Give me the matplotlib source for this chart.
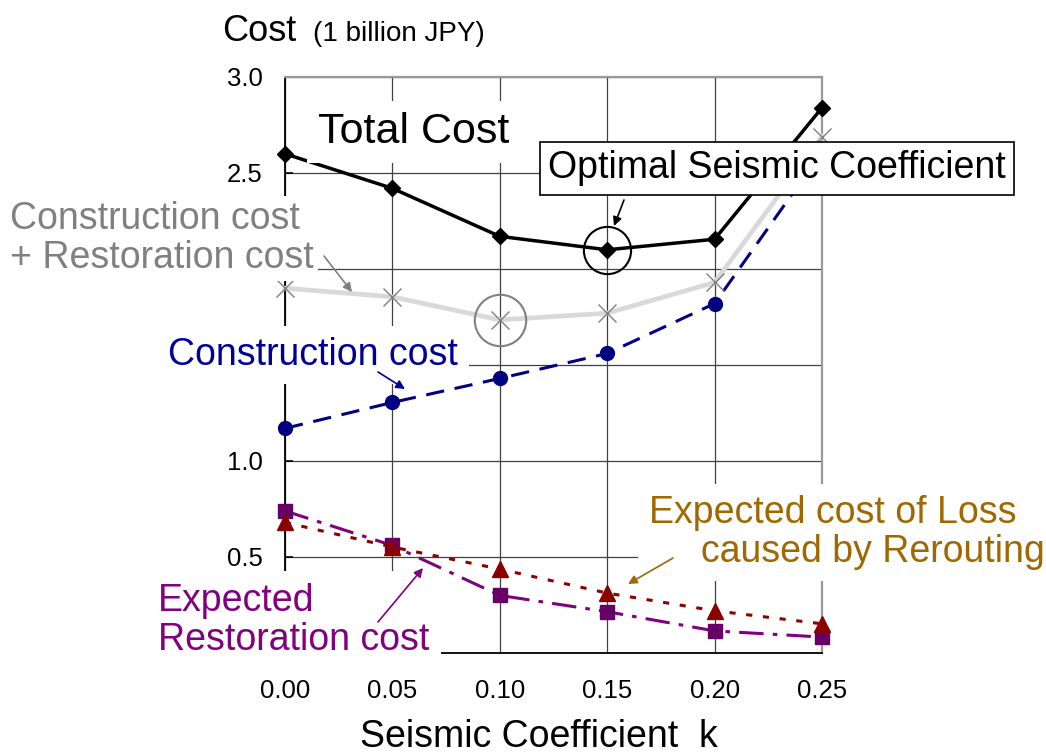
import matplotlib
matplotlib.use("Agg")
import matplotlib.pyplot as plt
from matplotlib.patches import FancyArrowPatch

plt.rcParams['font.family'] = ['Liberation Sans', 'DejaVu Sans']

# seismic coefficient k and costs (1 billion JPY)
k = [0.00, 0.05, 0.10, 0.15, 0.20, 0.25]
x_labels = ["0.00", "0.05", "0.10", "0.15", "0.20", "0.25"]
y_ticks = [0.5, 1.0, 1.5, 2.0, 2.5, 3.0]
y_labels = ["0.5", "1.0", "", "", "2.5", "3.0"]  # 1.5 / 2.0 sit under the text labels
total_cost = [2.60, 2.42, 2.17, 2.10, 2.155, 2.84]
constr_restor = [1.90, 1.855, 1.735, 1.77, 1.93, 2.69]
construction = [1.17, 1.305, 1.43, 1.56, 1.82, 2.61]
restoration = [0.74, 0.56, 0.30, 0.215, 0.115, 0.083]
rerouting = [0.68, 0.552, 0.437, 0.312, 0.22, 0.152]
opt_total = 3   # index of optimum (total cost)
opt_cr = 2      # index of optimum (construction + restoration)

W, H = 1046, 754
fig = plt.figure(figsize=(W / 100, H / 100), dpi=100)
ax = fig.add_axes([285 / W, 1 - 653 / H, (822 - 285) / W, (653 - 77) / H])

ax.set_xlim(0, 0.25)
ax.set_ylim(0, 3.0)
ax.set_xticks(k)
ax.set_xticklabels(x_labels)
ax.set_yticks(y_ticks)
ax.set_yticklabels(y_labels)
ax.tick_params(axis='x', length=0, labelsize=18.5, pad=19)
ax.tick_params(axis='y', direction='in', length=6, width=1.2, labelsize=18.5, pad=16)
ax.grid(True, color='#404040', lw=0.9)
ax.set_axisbelow(True)
for s in ['left', 'bottom']:
    ax.spines[s].set_color('black')
    ax.spines[s].set_linewidth(1.3)
for s in ['top', 'right']:
    ax.spines[s].set_color('#999999')
    ax.spines[s].set_linewidth(1.6)

ax.plot(k, construction, color='#000080', lw=2.2, ls=(0, (6, 3.5)),
        marker='o', ms=10, zorder=3, clip_on=False)
ax.plot(k, constr_restor, color='#D9D9D9', lw=3.4, marker='x', ms=13,
        mec='#808080', mew=1.0, zorder=3, clip_on=False)
ax.plot(k, restoration, color='#800080', lw=2.2, ls=(0, (8, 3, 1.5, 3)),
        marker='s', ms=10, mfc='#660066', mec='#660066', zorder=4, clip_on=False)
ax.plot(k, rerouting, color='#8B0000', lw=2.2, ls=(0, (2, 3.5)),
        marker='^', ms=11, zorder=5, clip_on=False)
ax.plot(k, total_cost, color='black', lw=2.5, marker='D', ms=8.5, zorder=6, clip_on=False)

# circles around the optimum points
ax.plot(k[opt_total], total_cost[opt_total], 'o', ms=34, mfc='none', mec='black', mew=1.5, zorder=7)
ax.plot(k[opt_cr], constr_restor[opt_cr], 'o', ms=37, mfc='none', mec='#808080', mew=1.5, zorder=7)


def ftext(x, y, s, **kw):
    # x, y in pixels from the top-left corner (baseline of the last line)
    return fig.text(x / W, 1 - y / H, s, **kw)


def arrow(x0, y0, x1, y1, c):
    a = FancyArrowPatch((x0 / W, 1 - y0 / H), (x1 / W, 1 - y1 / H), arrowstyle='-|>',
                        mutation_scale=13, lw=1.2, color=c, transform=fig.transFigure,
                        shrinkA=0, shrinkB=0, zorder=10)
    fig.add_artist(a)


white = dict(boxstyle='square,pad=0.3', fc='white', ec='none')

ftext(222, 41, 'Cost', fontsize=26)
ftext(313, 41, '(1 billion JPY)', fontsize=20)
ftext(318, 143, 'Total Cost', fontsize=31, bbox=dict(boxstyle='square,pad=0.25', fc='white', ec='none'))
ftext(777, 168.5, 'Optimal Seismic Coefficient', fontsize=27, ha='center', va='center',
      bbox=dict(boxstyle='square,pad=0.22', fc='white', ec='black', lw=1.2))
ftext(10, 268, 'Construction cost\n+ Restoration cost', fontsize=27, color='#808080',
      linespacing=1.12, bbox=dict(boxstyle='square,pad=0.12', fc='white', ec='none'))
ftext(168, 365, 'Construction cost', fontsize=27, color='#000099', bbox=white)
ftext(158, 650, 'Expected\nRestoration cost', fontsize=27, color='#800080',
      linespacing=1.12, bbox=white)
ftext(649, 562, 'Expected cost of Loss\n     caused by Rerouting', fontsize=27, color='#A06800',
      linespacing=1.1, bbox=white)
ftext(360, 747, 'Seismic Coefficient  k', fontsize=27)

arrow(624, 200, 614, 226, 'black')
arrow(324, 256, 352, 292, '#808080')
arrow(378, 372, 405, 389, '#000099')
arrow(378, 622, 423, 568, '#800080')
arrow(673, 558, 628, 584, '#A06800')

fig.savefig('out.png', dpi=100)
